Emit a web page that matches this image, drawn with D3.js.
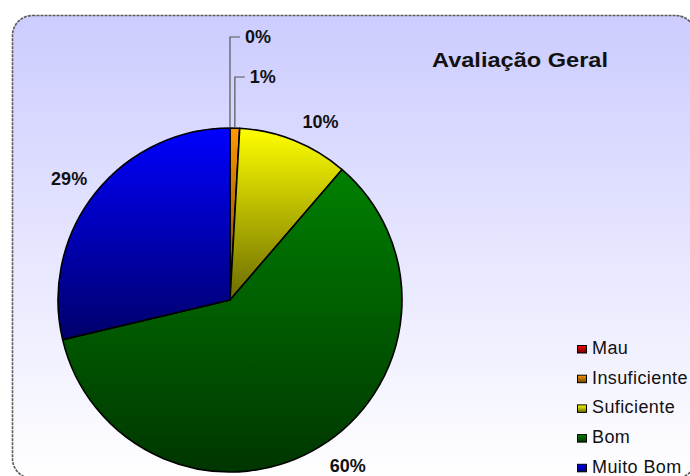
<!DOCTYPE html>
<html><head><meta charset="utf-8">
<script src="https://cdn.jsdelivr.net/npm/d3@7"></script>
<style>html,body{margin:0;padding:0;background:#fff;overflow:hidden}</style>
</head><body>
<svg id="chart" width="690" height="476"></svg>
<script>
const categories = ["Mau", "Insuficiente", "Suficiente", "Bom", "Muito Bom"];
const values = [0, 0.9, 10.4, 60.0, 28.7];
const colors = ["#ff0000", "#ff9900", "#ffff00", "#008000", "#0000ff"];
const title = "Avaliação Geral";

const W = 690, H = 476;
const svg = d3.select("#chart");
const defs = svg.append("defs");
const FONT = "'Liberation Sans', Arial, sans-serif";

// background gradient
const bg = defs.append("linearGradient").attr("id", "bgGrad")
  .attr("x1", 0).attr("y1", 0).attr("x2", 0).attr("y2", 1);
bg.append("stop").attr("offset", "0%").attr("stop-color", "#ccccff");
bg.append("stop").attr("offset", "100%").attr("stop-color", "#ffffff");

svg.append("rect").attr("x", 12.5).attr("y", 15.5).attr("width", 683).attr("height", 463)
  .attr("rx", 20).attr("ry", 20)
  .attr("fill", "url(#bgGrad)").attr("stroke", "#5a5a5a").attr("stroke-width", 1.6)
  .attr("stroke-dasharray", "3,1");

// slice gradients
function darker(c, k) {
  const col = d3.rgb(c);
  return d3.rgb(col.r * k, col.g * k, col.b * k).toString();
}
colors.forEach((c, i) => {
  const g = defs.append("linearGradient").attr("id", "g" + i)
    .attr("x1", 0).attr("y1", 0).attr("x2", 0).attr("y2", 1);
  g.append("stop").attr("offset", "0%").attr("stop-color", c);
  g.append("stop").attr("offset", "100%").attr("stop-color", darker(c, 0.42));
});

const data = categories.map((c, i) => ({ cat: c, v: values[i], i }));
const total = d3.sum(values);
const fmt = d3.format(".0%");

const cx = 230, cy = 300, R = 172;
const pie = d3.pie().sort(null).value(d => d.v);
const arcs = pie(data);
const arc = d3.arc().innerRadius(0).outerRadius(R);

const gPie = svg.append("g").attr("transform", `translate(${cx},${cy})`);
gPie.selectAll("path").data(arcs).enter().append("path")
  .attr("d", arc)
  .attr("fill", d => `url(#g${d.data.i})`)
  .attr("stroke", "#000").attr("stroke-width", 1.6).attr("stroke-linejoin", "round");

// labels
const gLab = svg.append("g").attr("transform", `translate(${cx},${cy})`);
let smallCount = 0;
const leaderY = [37, 77];
arcs.forEach(d => {
  const pct = d.data.v / total;
  const txt = fmt(pct);
  const mid = (d.startAngle + d.endAngle) / 2;
  if (pct < 0.02) {
    const px = R * Math.sin(mid), py = -R * Math.cos(mid);
    const ly = leaderY[smallCount++] - cy;
    gLab.append("path")
      .attr("d", `M${px},${py}V${ly}H${px + 10}`)
      .attr("fill", "none").attr("stroke", "#555").attr("stroke-width", 1.2);
    gLab.append("text").attr("x", px + 15).attr("y", ly + 6)
      .attr("font-family", FONT).attr("font-weight", "bold").attr("font-size", 18)
      .attr("fill", "#111").text(txt);
  } else {
    const g = 14;
    const s = Math.sin(mid), c = Math.cos(mid);
    const px = (R + g) * s, py = -(R + g) * c;
    const hw = 18, hh = 6.5;
    const tx = px + hw * Math.sign(s) + 3;
    const ty = py - hh * Math.sign(c);
    gLab.append("text").attr("x", tx).attr("y", ty + hh)
      .attr("text-anchor", "middle")
      .attr("font-family", FONT).attr("font-weight", "bold").attr("font-size", 18)
      .attr("fill", "#111").text(txt);
  }
});

// title
svg.append("text").attr("x", 432).attr("y", 67)
  .attr("font-family", FONT).attr("font-weight", "bold").attr("font-size", 21)
  .attr("textLength", 176).attr("lengthAdjust", "spacingAndGlyphs")
  .attr("fill", "#111").text(title);

// legend
const gLeg = svg.append("g");
data.forEach((d, i) => {
  const by = 354 + i * 29.7;
  gLeg.append("rect").attr("x", 577.5).attr("y", by - 8.5).attr("width", 9).attr("height", 7.5)
    .attr("fill", `url(#g${i})`).attr("stroke", "#000").attr("stroke-width", 1);
  gLeg.append("text").attr("x", 592).attr("y", by)
    .attr("font-family", FONT).attr("font-size", 18).attr("letter-spacing", 0.4)
    .attr("fill", "#111").text(d.cat);
});
</script>
</body></html>
